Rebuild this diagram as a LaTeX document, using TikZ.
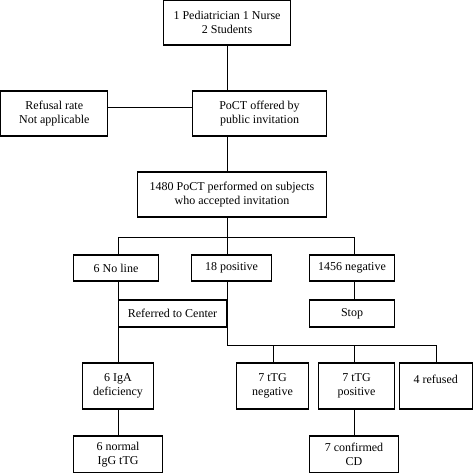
\documentclass[tikz,border=0pt]{standalone}
\usepackage{fontspec}
\setmainfont{Liberation Serif}
\begin{document}
\begin{tikzpicture}[x=1bp,y=-1bp,
  box/.style={draw, line width=1.2bp, inner sep=0pt, align=center,
    font=\fontsize{12bp}{14bp}\selectfont},
  conn/.style={line width=1bp}]
\useasboundingbox (0,0) rectangle (473,473);
% boxes: center, width, height
\newcommand{\mybox}[7]{\node[box, minimum width=#4-#2, minimum height=#5-#3] (#1) at ({(#2+#4)/2},{(#3+#5)/2}) {#6};}
\mybox{top}{163}{0.6}{291}{45}{1 Pediatrician 1 Nurse\\2 Students}{}
\mybox{refusal}{0.6}{91}{108}{136}{Refusal rate\\Not applicable}{}
\mybox{poct}{192}{91}{327}{136}{PoCT offered by\\public invitation}{}
\mybox{c1480}{137}{172}{327}{217}{1480 PoCT performed on subjects\\who accepted invitation}{}
\mybox{noline}{73}{255}{159}{281}{6 No line}{}
\mybox{pos18}{191}{255}{272}{281}{18 positive}{}
\mybox{neg1456}{309}{255}{395}{281}{1456 negative}{}
\mybox{referred}{118}{300}{227}{327}{Referred to Center}{}
\mybox{stop}{309}{300}{395}{327}{Stop}{}
\mybox{iga}{82}{363}{154}{409}{6 IgA\\deficiency}{}
\mybox{tneg}{236}{363}{309}{409}{7 tTG\\negative}{}
\mybox{tpos}{318}{363}{395}{409}{7 tTG\\positive}{}
\mybox{refused}{399}{363}{472.4}{409}{4 refused\\\phantom{x}}{}
\mybox{normal}{73}{436}{163}{472.4}{6 normal\\IgG tTG}{}
\mybox{confirmed}{309}{436}{399}{472.4}{7 confirmed\\CD}{}
% bus coordinates
\coordinate (b1) at (227,237);
\coordinate (b2) at (227,345);
% connectors
\draw[conn] (top.south) -- (top.south |- poct.north);
\draw[conn] (refusal.east |- 0,108) -- (poct.west |- 0,108);
\draw[conn] (poct.south -| top.south) -- (c1480.north -| top.south);
\draw[conn] (c1480.south -| b1) -- (b1);
\draw[conn] (b1 -| 118,0) -- (b1 -| 354,0);
\draw[conn] (b1 -| 118,0) -- (noline.north -| 118,0);
\draw[conn] (b1) -- (pos18.north -| b1);
\draw[conn] (b1 -| 354,0) -- (neg1456.north -| 354,0);
\draw[conn] (noline.south -| 118,0) -- (iga.north -| 118,0);
\draw[conn] (pos18.south -| b2) -- (b2);
\draw[conn] (b2) -- (b2 -| 436,0);
\draw[conn] (b2 -| 273,0) -- (tneg.north -| 273,0);
\draw[conn] (b2 -| 354,0) -- (tpos.north -| 354,0);
\draw[conn] (b2 -| 436,0) -- (refused.north -| 436,0);
\draw[conn] (neg1456.south -| 354,0) -- (stop.north -| 354,0);
\draw[conn] (iga.south -| 118,0) -- (normal.north -| 118,0);
\draw[conn] (tpos.south -| 354,0) -- (confirmed.north -| 354,0);
\end{tikzpicture}
\end{document}
